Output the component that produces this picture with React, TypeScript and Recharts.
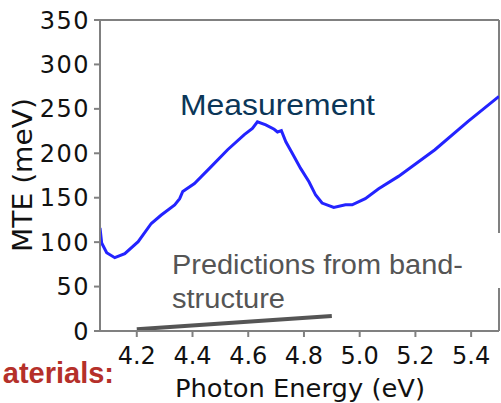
import React from "react";
import { LineChart, Line, XAxis, YAxis, ReferenceLine } from "recharts";

const measEnergy = [
  4.068, 4.074, 4.092, 4.121, 4.157, 4.205, 4.252, 4.288, 4.336, 4.354, 4.365, 4.407,
  4.467, 4.526, 4.586, 4.615, 4.633, 4.663, 4.693, 4.705, 4.719, 4.735, 4.758, 4.788,
  4.818, 4.842, 4.865, 4.907, 4.949, 4.973, 5.02, 5.068, 5.139, 5.27, 5.389, 5.5,
];
const measMTE = [
  116, 99, 88, 82.5, 87, 100.5, 121, 130.5, 142, 149, 157, 166,
  185, 204, 221, 228, 235.5, 232, 227, 224, 225.5, 213, 200, 183,
  168, 153, 144, 139, 142, 142, 149, 160, 174, 204, 236, 264,
];

// band-structure prediction
const predEnergy = [4.2, 4.9];
const predMTE = [2, 17];

const xTicks = [4.2, 4.4, 4.6, 4.8, 5.0, 5.2, 5.4];
const yTicks = [0, 50, 100, 150, 200, 250, 300, 350];

const measured = measEnergy.map((x, i) => ({ x, y: measMTE[i] }));
const predicted = predEnergy.map((x, i) => ({ x, y: predMTE[i] }));

const axisGray = "#808080";
const tickFont = { fontSize: 24, fill: "#111", fontFamily: "DejaVu Sans" };

export default function App() {
  return (
    <div style={{ position: "absolute", left: 0, top: 0, width: 501, height: 403, background: "#fff" }}>
      <LineChart width={501} height={403} margin={{ top: 20, right: 2, bottom: 32, left: 40 }}>
        <XAxis
          dataKey="x"
          type="number"
          domain={[4.068, 5.5]}
          allowDataOverflow
          ticks={xTicks}
          tickFormatter={(v: number) => v.toFixed(1)}
          height={40}
          tickSize={6}
          tickMargin={10}
          stroke={axisGray}
          strokeWidth={2}
          tick={tickFont}
        />
        <YAxis
          yAxisId="left"
          domain={[0, 350]}
          ticks={yTicks}
          width={60}
          tickSize={6}
          tickMargin={4}
          stroke={axisGray}
          strokeWidth={2}
          tick={{ ...tickFont, letterSpacing: 1.5 }}
        />
        <YAxis
          yAxisId="right"
          orientation="right"
          domain={[0, 350]}
          ticks={yTicks}
          width={0}
          mirror
          tick={false}
          tickSize={5}
          stroke={axisGray}
          strokeWidth={2}
        />
        <ReferenceLine yAxisId="left" y={350} stroke={axisGray} strokeWidth={2} />
        <ReferenceLine yAxisId="left" x={5.5} stroke={axisGray} strokeWidth={2} />
        <Line
          yAxisId="left"
          data={predicted}
          dataKey="y"
          stroke="#555"
          strokeWidth={4}
          dot={false}
          isAnimationActive={false}
        />
        <Line
          yAxisId="left"
          data={measured}
          dataKey="y"
          stroke="#2323ff"
          strokeWidth={3}
          dot={false}
          isAnimationActive={false}
        />
      </LineChart>
      <svg
        width={501}
        height={403}
        style={{ position: "absolute", left: 0, top: 0, pointerEvents: "none" }}
      >
        <text
          transform="translate(32,175) rotate(-90)"
          textAnchor="middle"
          fontFamily="DejaVu Sans"
          fontSize={26}
          fill="#111"
          textLength={154}
          lengthAdjust="spacingAndGlyphs"
        >
          MTE (meV)
        </text>
        <text x={300} y={397} textAnchor="middle" fontFamily="DejaVu Sans" fontSize={25} fill="#111" textLength={250} lengthAdjust="spacingAndGlyphs">
          Photon Energy (eV)
        </text>
        <text x={180} y={115} fontFamily="Liberation Sans" fontSize={29} fill="#0b3658" textLength={195} lengthAdjust="spacingAndGlyphs">
          Measurement
        </text>
        <rect x={165} y={233} width={336} height={55} fill="#fff" />
        <text x={172} y={274} fontFamily="Liberation Sans" fontSize={27} fill="#555" textLength={291} lengthAdjust="spacingAndGlyphs">
          Predictions from band-
        </text>
        <text x={172} y={308} fontFamily="Liberation Sans" fontSize={27} fill="#555" textLength={113} lengthAdjust="spacingAndGlyphs">
          structure
        </text>
        <text x={114} y={383} textAnchor="end" fontFamily="Liberation Sans" fontWeight="bold" fontSize={29} fill="#b5302a">
          aterials:
        </text>
      </svg>
    </div>
  );
}
